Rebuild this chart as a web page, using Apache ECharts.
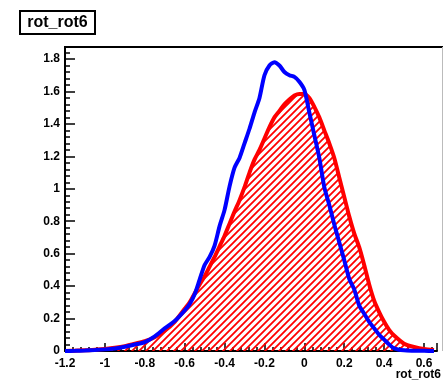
<!DOCTYPE html>
<html>
<head>
<meta charset="utf-8">
<script src="https://cdn.jsdelivr.net/npm/echarts@6/dist/echarts.min.js"></script>
<style>
  html, body { margin: 0; padding: 0; background: #fff; }
  #chart { width: 443px; height: 383px; }
</style>
</head>
<body>
<div id="chart"></div>
<script>
// bin centres
const xs = [-1.2, -1.15, -1.1, -1.05, -1.0, -0.95, -0.9, -0.85, -0.8, -0.75, -0.7, -0.65,
  -0.6, -0.575, -0.55, -0.525, -0.5, -0.475, -0.45, -0.425, -0.4, -0.375, -0.35, -0.325,
  -0.3, -0.275, -0.25, -0.225, -0.2, -0.175, -0.15, -0.125, -0.1, -0.075, -0.05, -0.025,
  0.0, 0.025, 0.05, 0.075, 0.1, 0.125, 0.15, 0.175, 0.2, 0.225, 0.25, 0.275,
  0.3, 0.325, 0.35, 0.375, 0.4, 0.425, 0.45, 0.5, 0.55, 0.6, 0.65];

// red (hatched) histogram
const redVals = [0, 0.002, 0.004, 0.008, 0.013, 0.02, 0.03, 0.045, 0.06, 0.085, 0.125, 0.18,
  0.26, 0.30, 0.355, 0.41, 0.46, 0.52, 0.58, 0.645, 0.71, 0.785, 0.86, 0.93,
  1.01, 1.10, 1.18, 1.24, 1.31, 1.38, 1.44, 1.48, 1.52, 1.55, 1.575, 1.585,
  1.585, 1.56, 1.505, 1.44, 1.36, 1.28, 1.19, 1.07, 0.95, 0.83, 0.725, 0.64,
  0.53, 0.41, 0.31, 0.24, 0.18, 0.13, 0.095, 0.045, 0.025, 0.012, 0.006];

// blue histogram
const blueVals = [0, 0.001, 0.003, 0.006, 0.01, 0.016, 0.026, 0.04, 0.055, 0.09, 0.14, 0.185,
  0.25, 0.29, 0.35, 0.44, 0.53, 0.58, 0.65, 0.77, 0.87, 1.015, 1.13, 1.19,
  1.28, 1.37, 1.47, 1.56, 1.70, 1.76, 1.78, 1.76, 1.72, 1.70, 1.69, 1.66,
  1.61, 1.47, 1.33, 1.19, 1.01, 0.90, 0.78, 0.67, 0.56, 0.445, 0.38, 0.28,
  0.23, 0.18, 0.14, 0.10, 0.07, 0.04, 0.016, 0.004, 0.002, 0.001, 0];

const xTitle = "rot_rot6";
const histTitle = "rot_rot6";

// diagonal hatch like ROOT fill style 3004
function hatch() {
  const p = 7;
  const c = document.createElement("canvas");
  c.width = p; c.height = p;
  const g = c.getContext("2d");
  g.strokeStyle = "#ff0000";
  g.lineWidth = 1.8;
  g.beginPath();
  g.moveTo(-1, p + 1); g.lineTo(p + 1, -1);
  g.moveTo(-2, 2); g.lineTo(2, -2);
  g.moveTo(p - 2, p + 2); g.lineTo(p + 2, p - 2);
  g.stroke();
  return c;
}

const chart = echarts.init(document.getElementById("chart"), null, { renderer: "canvas" });

const labelFont = { color: "#000", fontFamily: "Liberation Sans", fontWeight: "bold", fontSize: 12 };

chart.setOption({
  animation: false,
  grid: { left: 65, right: 6, top: 47, bottom: 32, show: false },
  xAxis: {
    type: "value",
    min: -1.2,
    max: 0.665,
    interval: 0.2,
    axisLine: { onZero: false, lineStyle: { color: "#000", width: 2 } },
    axisTick: { inside: true, length: 8, lineStyle: { color: "#000", width: 1.5 } },
    minorTick: { show: true, splitNumber: 5, length: 4, lineStyle: { color: "#000", width: 1.5 } },
    splitLine: { show: false },
    axisLabel: Object.assign({ margin: 7, showMaxLabel: false }, labelFont)
  },
  yAxis: {
    type: "value",
    min: 0,
    max: 1.874,
    interval: 0.2,
    axisLine: { show: true, onZero: false, lineStyle: { color: "#000", width: 2 } },
    axisTick: { show: true, inside: true, length: 10, lineStyle: { color: "#000", width: 1.5 } },
    minorTick: { show: true, splitNumber: 5, length: 5, lineStyle: { color: "#000", width: 1.5 } },
    splitLine: { show: false },
    axisLabel: Object.assign({ margin: 5, showMaxLabel: false }, labelFont)
  },
  series: [
    {
      name: "red",
      type: "line",
      data: xs.map((x, i) => [x, redVals[i]]),
      smooth: 0.25,
      showSymbol: false,
      lineStyle: { color: "#ff0000", width: 4 },
      areaStyle: { color: { image: hatch(), repeat: "repeat" }, opacity: 1 },
      z: 2
    },
    {
      name: "blue",
      type: "line",
      data: xs.map((x, i) => [x, blueVals[i]]),
      smooth: 0.25,
      showSymbol: false,
      lineStyle: { color: "#0000ff", width: 4 },
      z: 3
    }
  ],
  graphic: [
    { type: "line", shape: { x1: 64, y1: 47, x2: 443, y2: 47 }, style: { stroke: "#000", lineWidth: 2 } },
    { type: "line", shape: { x1: 442.5, y1: 47, x2: 442.5, y2: 351 }, style: { stroke: "#bbb", lineWidth: 1 } },
    { type: "rect", shape: { x: 20, y: 11, width: 75, height: 23 }, style: { fill: "#fff", stroke: "#000", lineWidth: 2 } },
    {
      type: "text", x: 57.5, y: 22.5,
      style: { text: histTitle, fill: "#000", font: "bold 16px 'Liberation Sans'", textAlign: "center", textVerticalAlign: "middle" }
    },
    {
      type: "text", x: 441, y: 375,
      style: { text: xTitle, fill: "#000", font: "bold 12px 'Liberation Sans'", textAlign: "right", textVerticalAlign: "middle" }
    }
  ]
});
</script>
</body>
</html>
